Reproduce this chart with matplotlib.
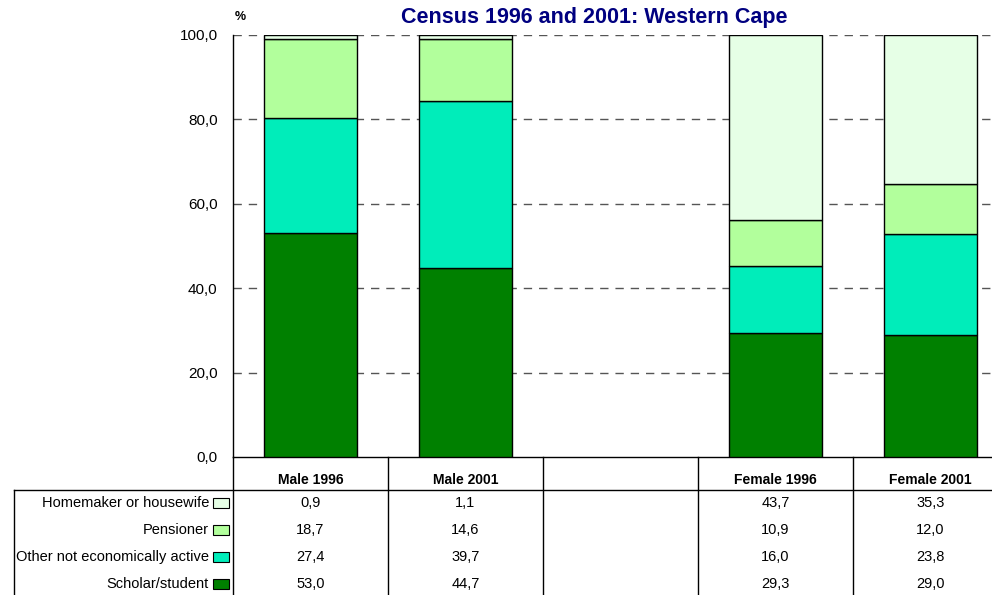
import numpy as np
import matplotlib.pyplot as plt
from matplotlib.patches import Rectangle

# datos (porcentaje)
columns = ["Male 1996", "Male 2001", "", "Female 1996", "Female 2001"]
scholar = [53.0, 44.7, None, 29.3, 29.0]
other_inactive = [27.4, 39.7, None, 16.0, 23.8]
pensioner = [18.7, 14.6, None, 10.9, 12.0]
homemaker = [0.9, 1.1, None, 43.7, 35.3]

series_names = ["Scholar/student", "Other not economically active",
                "Pensioner", "Homemaker or housewife"]
series_vals = [scholar, other_inactive, pensioner, homemaker]
colors = ["#008000", "#00EDBA", "#B2FF9C", "#E6FFE6"]

plt.rcParams['font.family'] = ["Liberation Sans", "DejaVu Sans"]

W, H = 992, 595
fig = plt.figure(figsize=(W / 100, H / 100), dpi=100)

def fx(px):
    return px / W

def fy(py):
    return 1 - py / H

ax_left, ax_right, ax_top, ax_bot = 233, 1008, 35, 457
ax = fig.add_axes([fx(ax_left), fy(ax_bot), fx(ax_right - ax_left), fy(ax_top) - fy(ax_bot)])

x = np.arange(len(columns))
bottom = np.zeros(len(columns))
for name, vals, c in zip(series_names, series_vals, colors):
    v = np.array([0 if a is None else a for a in vals])
    mask = np.array([a is not None for a in vals])
    ax.bar(x[mask], v[mask], 0.6, bottom=bottom[mask], color=c,
           edgecolor="black", linewidth=1.0, zorder=3)
    bottom += v

ax.set_xlim(-0.5, len(columns) - 0.5)
ax.set_ylim(0, 100)
ax.set_yticks(np.arange(0, 101, 20))
ax.set_yticklabels([f"{t:.1f}".replace(".", ",") for t in range(0, 101, 20)], fontsize=11)
ax.set_xticks([])
for t in range(20, 101, 20):
    ax.axhline(t, color="#555555", linestyle=(0, (6, 5)), linewidth=1.0, zorder=1)
for s in ["top", "right"]:
    ax.spines[s].set_visible(False)
ax.spines["left"].set_linewidth(1.0)
ax.spines["bottom"].set_linewidth(1.0)
ax.tick_params(axis="y", length=0, pad=11)

fig.text(fx(594), fy(17), "Census 1996 and 2001: Western Cape", ha="center", va="center",
         fontsize=15.5, fontweight="bold", color="#000080")
fig.text(fx(240), fy(17), "%", ha="center", va="center", fontsize=9, fontweight="bold")

# tabla de datos
col_w = (ax_right - ax_left) / len(columns)
line_kw = dict(color="black", linewidth=1.0, transform=fig.transFigure, clip_on=False)
for i in range(len(columns) + 1):
    xp = ax_left + i * col_w
    fig.add_artist(plt.Line2D([fx(xp), fx(xp)], [fy(ax_bot), 0], **line_kw))
fig.add_artist(plt.Line2D([fx(14), 1], [fy(490), fy(490)], **line_kw))
fig.add_artist(plt.Line2D([fx(14), fx(14)], [fy(490), 0], **line_kw))

for i, col in enumerate(columns):
    fig.text(fx(ax_left + (i + 0.5) * col_w), fy(480), col, ha="center", va="center",
             fontsize=10, fontweight="bold")

row_y = [503, 530, 557, 584]
table_rows = list(zip(series_names, series_vals, colors))[::-1]
for (name, vals, c), yy in zip(table_rows, row_y):
    fig.text(fx(209), fy(yy), name, ha="right", va="center", fontsize=10.5)
    fig.add_artist(Rectangle((fx(213), fy(yy + 5)), fx(16), fy(yy - 5) - fy(yy + 5),
                             facecolor=c, edgecolor="black", linewidth=0.8,
                             transform=fig.transFigure))
    for i, v in enumerate(vals):
        if v is None:
            continue
        fig.text(fx(ax_left + (i + 0.5) * col_w), fy(yy), f"{v:.1f}".replace(".", ","),
                 ha="center", va="center", fontsize=10.5)

fig.savefig("out.png", dpi=100)
